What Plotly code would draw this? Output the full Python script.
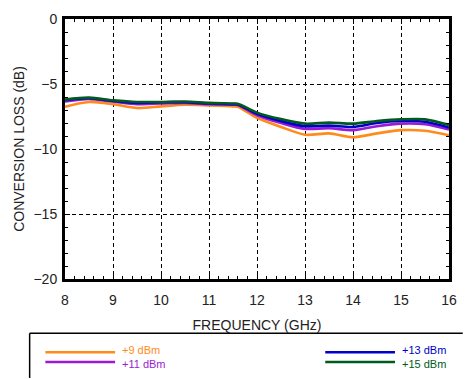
import plotly.graph_objects as go

freq = [8, 8.5, 9, 9.5, 10, 10.5, 11, 11.5, 11.6, 12, 12.5, 13, 13.5, 14, 14.5, 15, 15.5, 16]
loss_9 = [-6.75, -6.38, -6.55, -6.85, -6.72, -6.6, -6.65, -6.72, -6.75, -7.6, -8.3, -8.9, -8.8, -9.1, -8.8, -8.55, -8.6, -8.95]
loss_11 = [-6.35, -6.15, -6.35, -6.55, -6.5, -6.45, -6.55, -6.6, -6.62, -7.4, -8.0, -8.45, -8.4, -8.55, -8.25, -8.05, -8.1, -8.5]
loss_13 = [-6.25, -6.1, -6.3, -6.45, -6.4, -6.4, -6.5, -6.55, -6.57, -7.3, -7.85, -8.25, -8.2, -8.3, -8.0, -7.85, -7.9, -8.35]
loss_15 = [-6.2, -6.05, -6.25, -6.38, -6.38, -6.35, -6.45, -6.5, -6.52, -7.2, -7.7, -8.05, -7.97, -8.05, -7.85, -7.72, -7.72, -8.15]

series_names = ["+9 dBm", "+11 dBm", "+13 dBm", "+15 dBm"]
series_colors = ["#FF8C1A", "#9A1AD6", "#0000CC", "#005A1E"]
series_values = [loss_9, loss_11, loss_13, loss_15]

W, H = 468, 379
L, R, T, B = 65, 12, 11, 100
PW, PH = W - L - R, H - T - B

def px(x):
    return (x - L) / PW

def py(y):
    return (H - B - y) / PH

fig = go.Figure()
for name, col, vals in zip(series_names, series_colors, series_values):
    fig.add_trace(go.Scatter(x=freq, y=vals, mode="lines", name=name,
                             line=dict(color=col, width=2.6, shape="spline", smoothing=0.8),
                             showlegend=False))

font = "Liberation Sans, Arial, sans-serif"
axis_common = dict(showline=True, linecolor="black", linewidth=3, mirror="allticks",
                   ticks="inside", ticklen=5, tickwidth=1, tickcolor="black",
                   showgrid=True, gridcolor="black", griddash="4px,3px", gridwidth=1,
                   zeroline=False, tickfont=dict(family=font, size=14, color="#222"))

fig.update_xaxes(range=[8, 16], dtick=1, tick0=8, ticklabelstandoff=6,
                 minor=dict(dtick=0.2, ticks="inside", ticklen=3, tickcolor="black", showgrid=False),
                 title=dict(text="FREQUENCY (GHz)", font=dict(family=font, size=14, color="#222"), standoff=14),
                 **axis_common)
fig.update_yaxes(range=[-20, 0], dtick=5, tick0=0, ticklabelstandoff=2,
                 minor=dict(dtick=1, ticks="inside", ticklen=3, tickcolor="black", showgrid=False),
                 title=dict(text="CONVERSION LOSS (dB)", font=dict(family=font, size=14, color="#222"), standoff=6),
                 **axis_common)

shapes = [
    dict(type="line", xref="paper", yref="paper", x0=px(29), x1=px(470), y0=py(335), y1=py(335),
         line=dict(color="black", width=1.5)),
    dict(type="line", xref="paper", yref="paper", x0=px(29), x1=px(29), y0=py(335), y1=py(381),
         line=dict(color="black", width=1.5)),
]
annotations = []
legend_pos = [(45, 116, 354.5, 352.5), (45, 116, 364.5, 366.5),
              (330, 401, 354.5, 352.5), (330, 401, 364.5, 366.5)]
for (x0, x1, yy, ty), name, col in zip(legend_pos, series_names, series_colors):
    shapes.append(dict(type="line", xref="paper", yref="paper", x0=px(x0), x1=px(x1), y0=py(yy), y1=py(yy),
                       line=dict(color=col, width=2.5)))
    annotations.append(dict(xref="paper", yref="paper", x=px(x1 + 5), y=py(ty), text=name, showarrow=False,
                            xanchor="left", yanchor="middle", font=dict(family=font, size=11, color=col)))

fig.update_layout(width=W, height=H, margin=dict(l=L, r=R, t=T, b=B),
                  plot_bgcolor="white", paper_bgcolor="white",
                  shapes=shapes, annotations=annotations)

fig.write_html("out.html", config={"displayModeBar": False},
               post_script="document.body.style.margin='0';document.body.style.overflow='hidden';")
